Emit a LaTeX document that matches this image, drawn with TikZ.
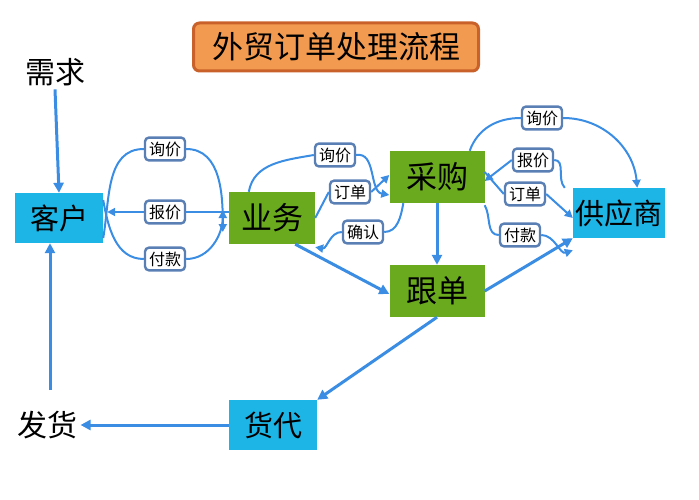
\documentclass[tikz,border=0pt]{standalone}
\usepackage{fontspec}
\setmainfont{Noto Sans CJK SC}
\usetikzlibrary{arrows.meta}
\definecolor{ablue}{HTML}{3B8DE3}
\definecolor{lgreen}{HTML}{6AAA1E}
\definecolor{lcyan}{HTML}{1DB5E5}
\definecolor{lborder}{HTML}{5A7FB5}
\definecolor{torange}{HTML}{F29A50}
\definecolor{tborder}{HTML}{C9622A}
\begin{document}
\begin{tikzpicture}[x=1pt,y=-1pt,
  gbox/.style={fill=lgreen,minimum width=#1,minimum height=52pt,font=\fontsize{31}{33}\selectfont,inner sep=0pt},
  cbox/.style={fill=lcyan,minimum width=#1,minimum height=50pt,font=\fontsize{29}{31}\selectfont,inner sep=0pt},
  lab/.style={draw=lborder,line width=2.4pt,fill=white,rounded corners=4pt,font=\fontsize{16}{18}\selectfont,inner sep=4pt},
  arr/.style={draw=ablue,line width=3pt,-{Triangle[length=10pt,width=10pt]}},
  thin/.style={draw=ablue,line width=2pt,-{Triangle[length=8pt,width=8pt]}},
  free/.style={font=\fontsize{30}{32}\selectfont}]
\useasboundingbox (0,0) rectangle (699,500);
\node[draw=tborder,line width=3pt,fill=torange,rounded corners=6pt,minimum width=285pt,minimum height=48pt,font=\fontsize{31}{33}\selectfont] (title) at (336,47) {外贸订单处理流程};
\node[free] (xq) at (55,72) {需求};
\node[free] (fh) at (47,425) {发货};
\node[cbox=88pt] (kh) at (59,218) {客户};
\node[gbox=86pt] (yw) at (272,218) {业务};
\node[gbox=95pt] (cg) at (437,177) {采购};
\node[gbox=95pt] (gd) at (437,291) {跟单};
\node[cbox=92pt] (gys) at (619,213) {供应商};
\node[cbox=88pt] (hd) at (273,425) {货代};
% main arrows
\draw[arr] (xq.south) -- (kh.north);
\coordinate (hdup) at (50,390);
\draw[arr] (hdup) -- ([xshift=-9pt]kh.south);
\draw[arr] (hd.west) -- (fh.east);
\draw[arr] (gd.south) -- (hd.north east);
\draw[arr] ([xshift=-20pt]yw.south east) -- ([yshift=-3pt]gd.west);
\draw[arr] (cg.south) -- (gd.north);
\draw[arr] (gd.east) -- (gys.south west);
% customer-business
\node[lab] (l1) at (165,149) {询价};
\node[lab] (l2) at (165,212) {报价};
\node[lab] (l3) at (165,259) {付款};
\draw[thin] ([yshift=-20pt]kh.east) to[out=80,in=180] (l1.west) (l1.east) to[out=0,in=90] ([yshift=-14pt,xshift=-6pt]yw.west);
\draw[thin] (yw.west |- l2) -- (l2.east) (l2.west) -- ([xshift=4pt]kh.east |- l2);
\draw[thin] ([yshift=18pt]kh.east) to[out=-80,in=180] (l3.west) (l3.east) to[out=0,in=-90] ([yshift=8pt,xshift=-6pt]yw.west);
% business-purchase
\node[lab] (l4) at (335,155) {询价};
\node[lab] (l5) at (350,192) {订单};
\node[lab] (l6) at (363,232) {确认};
\draw[thin] ([xshift=20pt]yw.north west) to[out=80,in=190] (l4.west) (l4.east) to[out=10,in=170] ([yshift=-18pt]cg.west);
\draw[thin] (yw.east) -- (l5.west) (l5.east) -- ([yshift=2pt]cg.west);
\draw[thin] ([xshift=14pt]cg.south west) to[out=-100,in=0] (l6.east) (l6.west) to[out=180,in=-10] ([yshift=-3pt]yw.south east);
% purchase-supplier
\node[lab] (l7) at (542,118) {询价};
\node[lab] (l8) at (533,160) {报价};
\node[lab] (l9) at (525,194) {订单};
\node[lab] (l10) at (520,235) {付款};
\draw[thin] ([xshift=-15pt]cg.north east) to[out=70,in=180] (l7.west) (l7.east) to[out=0,in=95] ([xshift=-28pt]gys.north east);
\draw[thin] ([xshift=-8pt]gys.north west) to[out=135,in=0] (l8.east) (l8.west) -- ([yshift=-4pt]cg.east);
\draw[thin] ([yshift=5pt]cg.east) -- (l9.west) (l9.east) -- ([yshift=-5pt]gys.west);
\draw[thin] ([yshift=-2pt]cg.south east) to[out=-60,in=180] (l10.west) (l10.east) to[out=0,in=200] ([yshift=-12pt]gys.south west);
\end{tikzpicture}
\end{document}
